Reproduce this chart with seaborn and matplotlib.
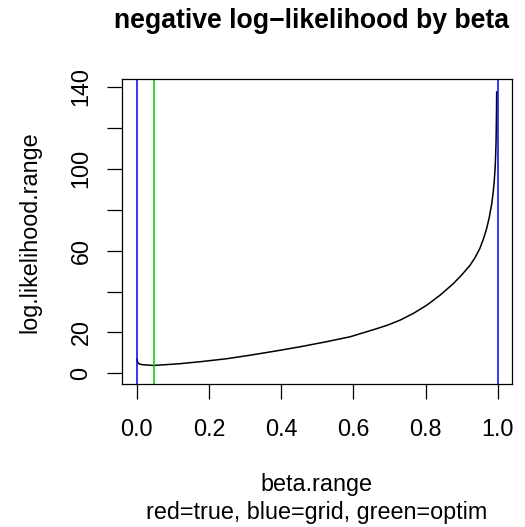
import numpy as np
import pandas as pd
import matplotlib
matplotlib.use("Agg")
import matplotlib.pyplot as plt
import seaborn as sns

# negative log-likelihood evaluated over the beta grid
beta_range = [0.001, 0.003, 0.008, 0.015, 0.047, 0.116, 0.175, 0.25, 0.314,
              0.38, 0.452, 0.52, 0.591, 0.66, 0.695, 0.729, 0.766, 0.803,
              0.84, 0.877, 0.90, 0.923, 0.937, 0.950, 0.960, 0.969, 0.976,
              0.983, 0.987, 0.990, 0.9925, 0.9939, 0.995, 0.9956, 0.9962,
              0.9967]
log_likelihood_range = [7.0, 5.3, 4.6, 4.3, 3.9, 4.7, 5.7, 7.2, 8.9,
                        10.8, 13.0, 15.3, 17.9, 21.6, 23.6, 26.0, 29.3, 33.3,
                        38.2, 43.9, 48.1, 52.8, 56.6, 61.0, 65.6, 70.8, 76.0,
                        82.8, 88.3, 94.0, 100.5, 106.5, 113.0, 119.5, 128.0,
                        137.5]

# reference lines: grid search estimates (blue) and optim estimate (green)
grid_beta = [0.0, 1.0]
optim_beta = [0.048]

x_ticks = [0.0, 0.2, 0.4, 0.6, 0.8, 1.0]
x_tick_labels = ["0.0", "0.2", "0.4", "0.6", "0.8", "1.0"]
y_ticks = [0, 20, 40, 60, 80, 100, 120, 140]
y_tick_labels = ["0", "20", "", "60", "", "100", "", "140"]

sns.set_style("white")
plt.rcParams["font.family"] = ["Liberation Sans", "DejaVu Sans"]
plt.rcParams["text.color"] = "black"

W, H = 525, 527
fig = plt.figure(figsize=(W / 100, H / 100), dpi=100)
ax = fig.add_axes([122 / W, 1 - 384.3 / H, (511.7 - 122) / W, (384.3 - 79.3) / H])

df = pd.DataFrame({"beta.range": beta_range,
                   "log.likelihood.range": log_likelihood_range})
sns.lineplot(data=df, x="beta.range", y="log.likelihood.range", ax=ax,
             color="black", linewidth=1.1, sort=False, estimator=None)

for b in grid_beta:
    ax.axvline(b, color="#0000FF", linewidth=1.1)
for b in optim_beta:
    ax.axvline(b, color="#00CD00", linewidth=1.1)

ax.set_xlim(-0.0405, 1.0383)
ax.set_ylim(-5.3, 143.6)

ax.set_xticks(x_ticks)
ax.set_xticklabels(x_tick_labels)
ax.set_yticks(y_ticks)
ax.set_yticklabels(y_tick_labels, rotation=90, va="center")

ax.tick_params(axis="both", direction="out", length=10.8, width=0.9,
               color="black", labelsize=16.8, labelcolor="black",
               bottom=True, left=True)
ax.tick_params(axis="x", pad=13.5)
ax.tick_params(axis="y", pad=10.5)

for s in ax.spines.values():
    s.set_visible(True)
    s.set_color("black")
    s.set_linewidth(0.9)

ax.set_xlabel("")
ax.set_ylabel("")

fig.text(316.9 / W, 1 - 485 / H, "beta.range", ha="center", va="center",
         fontsize=16.8, color="black")
fig.text(316.9 / W, 1 - 513 / H, "red=true, blue=grid, green=optim",
         ha="center", va="center", fontsize=16.8, color="black")
fig.text(30 / W, 1 - 231.8 / H, "log.likelihood.range", rotation=90,
         ha="center", va="center", fontsize=16.8, color="black")
fig.text(311 / W, 1 - 21 / H, "negative log\u2212likelihood by beta",
         ha="center", va="center", fontsize=19.2, fontweight="bold",
         color="black")

fig.savefig("out.png", dpi=100, facecolor="white")
